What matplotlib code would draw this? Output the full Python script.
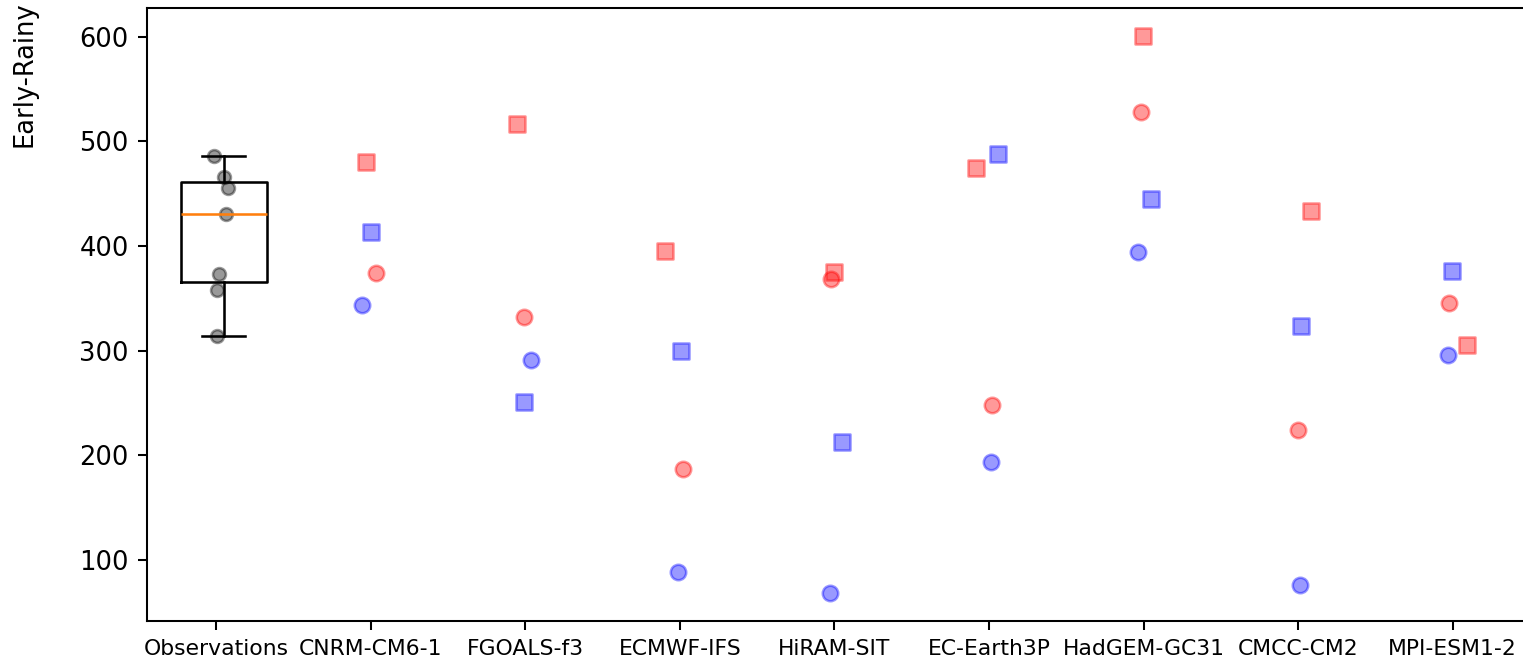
import matplotlib
matplotlib.use("Agg")
import matplotlib.pyplot as plt
import numpy as np

# ---------------- data ----------------
categories = ["Observations", "CNRM-CM6-1", "FGOALS-f3", "ECMWF-IFS", "HiRAM-SIT",
              "EC-Earth3P", "HadGEM-GC31", "CMCC-CM2", "MPI-ESM1-2"]
models = categories[1:]

obs_values = [485.8, 466.0, 455.6, 430.8, 373.6, 358.0, 314.0]
obs_jitter = [-0.013, 0.052, 0.076, 0.063, 0.021, 0.008, 0.005]

red_square = [480.5, 516.1, 394.9, 374.8, 475.0, 600.5, 433.6, 305.7]
red_circle = [374.2, 331.8, 186.8, 368.5, 248.3, 527.9, 224.4, 345.6]
blue_square = [413.0, 251.4, 299.6, 212.6, 488.1, 445.3, 323.2, 376.3]
blue_circle = [343.9, 291.0, 88.5, 68.4, 193.5, 394.6, 76.1, 296.0]

red_square_jitter = [-0.03, -0.05, -0.096, 0.0, -0.086, -0.006, 0.085, 0.094]
red_circle_jitter = [0.035, -0.01, 0.02, -0.02, 0.02, -0.019, 0.0, -0.025]
blue_square_jitter = [0.0, -0.01, 0.01, 0.05, 0.06, 0.05, 0.02, -0.005]
blue_circle_jitter = [-0.058, 0.04, -0.01, -0.03, 0.01, -0.034, 0.014, -0.03]

ylabel_text = "Early-Rainy"

# ---------------- figure ----------------
DPI = 185
fig = plt.figure(figsize=(1524 / DPI, 663 / DPI), dpi=DPI)
ax = fig.add_axes([146.7 / 1524, 1 - 621 / 663, 8.948 * 154.6 / 1524, (621 - 8.3) / 663])

# observations box + points
ax.boxplot([obs_values], positions=[0.05], widths=0.556, showfliers=False,
           manage_ticks=False)
ax.scatter(np.array(obs_jitter) + 0, obs_values, s=25, color="black", alpha=0.4,
           linewidths=1.0)

mx = np.arange(1, len(models) + 1)
ax.scatter(mx + np.array(red_square_jitter), red_square, marker="s", color="red", alpha=0.4)
ax.scatter(mx + np.array(red_circle_jitter), red_circle, marker="o", color="red", alpha=0.4)
ax.scatter(mx + np.array(blue_square_jitter), blue_square, marker="s", color="blue", alpha=0.4)
ax.scatter(mx + np.array(blue_circle_jitter), blue_circle, marker="o", color="blue", alpha=0.4)

ax.set_xticks(np.arange(len(categories)))
ax.set_xticklabels(categories, fontsize=8.5)
ax.set_xlim(-0.448, 8.5)
ax.set_yticks([100, 200, 300, 400, 500, 600])
ax.tick_params(axis="y", labelsize=10)
ax.autoscale(enable=True, axis="y")
ax.margins(y=0.05)

fig.text(11 / 1524, 1 - 147 / 663, ylabel_text, rotation=90, ha="left", va="bottom",
         fontsize=10)

fig.savefig("out.png", dpi=DPI)
